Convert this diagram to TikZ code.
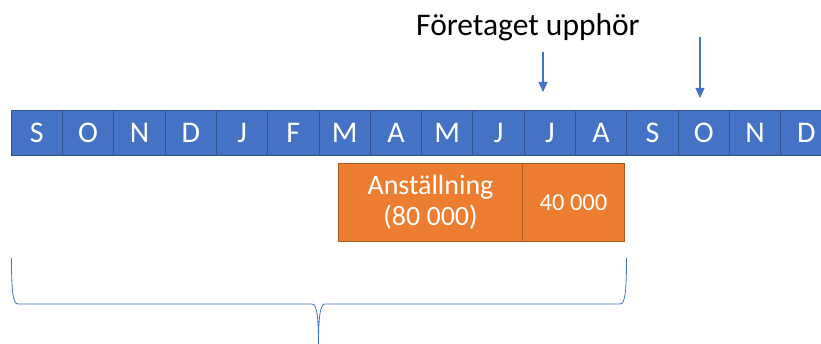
\documentclass[tikz,border=0pt]{standalone}
\usepackage{fontspec}
\setmainfont{Carlito}
\usetikzlibrary{arrows.meta}
\definecolor{cellblue}{HTML}{4472C4}
\definecolor{celledge}{HTML}{2F528F}
\definecolor{boxorange}{HTML}{ED7D31}
\definecolor{boxedge}{HTML}{AE5A21}
\begin{document}
\begin{tikzpicture}[x=1pt,y=-1pt,
    month/.style={draw=celledge,fill=cellblue,line width=1pt,minimum width=51.3pt,
        minimum height=45pt,inner sep=0pt,anchor=north west,text=white,
        font=\fontsize{30}{33}\selectfont},
    paybox/.style={draw=boxedge,fill=boxorange,line width=1pt,minimum height=78pt,
        inner sep=0pt,anchor=north west,text=white,align=center},
    marker/.style={draw=cellblue,line width=1.1pt,-{Triangle[width=9pt,length=10pt]}},
    brc/.style={draw=cellblue,line width=0.8pt}]
    \useasboundingbox (0,0) rectangle (821,344);
    \clip (0,0) rectangle (821,344);
    \foreach \m [count=\i] in {S,O,N,D,J,F,M,A,M,J,J,A,S,O,N,D}
        \node[month] (m\i) at ({10.7+51.3*(\i-1)},110) {\m};
    \node[paybox,minimum width=184pt,font=\fontsize{28}{31}\selectfont] (anst) at (338,163)
        {Anställning\\(80 000)};
    \node[paybox,minimum width=102pt,font=\fontsize{24.5}{28}\selectfont] (rest) at (522,163)
        {40 000};
    \node[font=\fontsize{31.5}{36}\selectfont] (stop) at (528,27) {Företaget upphör};
    \coordinate (a1s) at (543,52);
    \coordinate (a1e) at (543,92);
    \coordinate (a2s) at (700,37);
    \coordinate (a2e) at (700,98);
    \draw[marker] (a1s) -- (a1e);
    \draw[marker] (a2s) -- (a2e);
    \draw[brc] (11.5,258) .. controls (11.5,292) and (13,304) .. (18,304) -- (312,304)
        .. controls (317,304) and (318.5,318) .. (318.5,344)
        .. controls (318.5,318) and (320,304) .. (325,304) -- (620,304)
        .. controls (625,304) and (626.5,292) .. (626.5,258);
\end{tikzpicture}
\end{document}
